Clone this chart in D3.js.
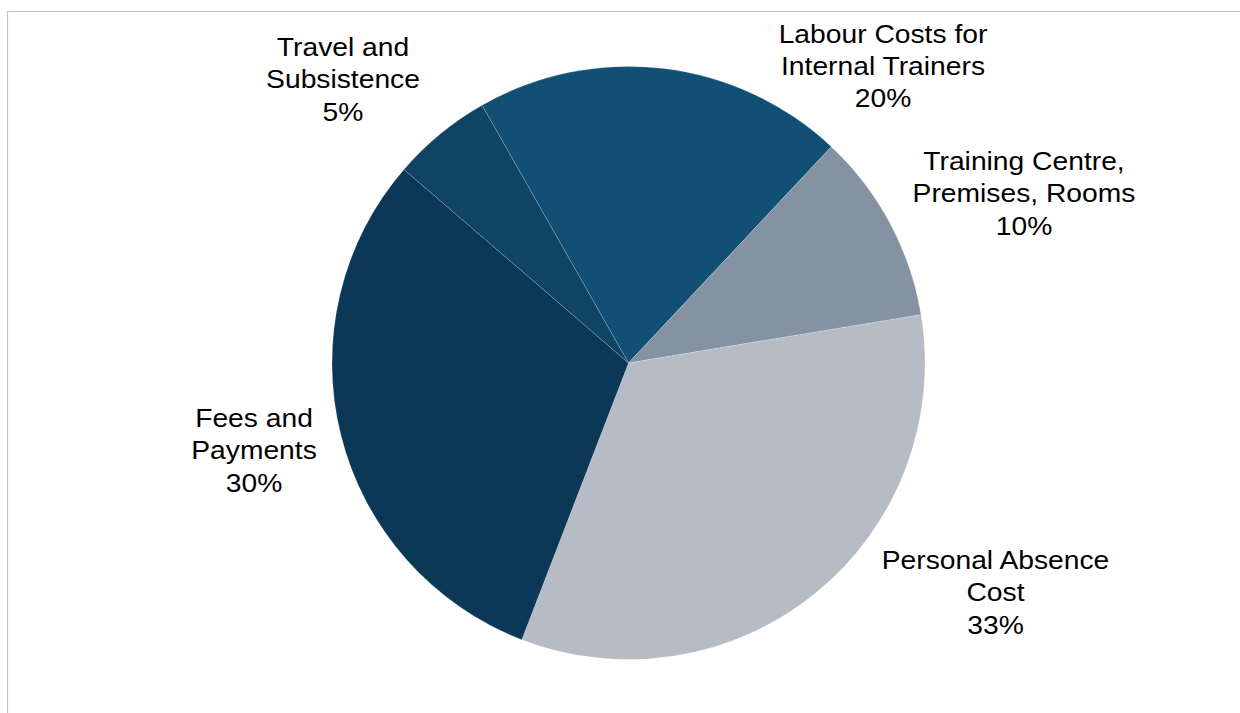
<!DOCTYPE html>
<html>
<head>
<meta charset="utf-8">
<script src="https://cdn.jsdelivr.net/npm/d3@7"></script>
<style>
  html, body { margin: 0; padding: 0; background: #ffffff; }
  svg { display: block; }
</style>
</head>
<body>
<svg id="chart" width="1240" height="713"></svg>
<script>
// ---- data ----
const categories = [
  "Labour Costs for Internal Trainers",
  "Training Centre, Premises, Rooms",
  "Personal Absence Cost",
  "Fees and Payments",
  "Travel and Subsistence"
];
const values = [20.2, 10.4, 33.45, 30.45, 5.45];
const labelLines = [
  ["Labour Costs for", "Internal Trainers"],
  ["Training Centre,", "Premises, Rooms"],
  ["Personal Absence", "Cost"],
  ["Fees and", "Payments"],
  ["Travel and", "Subsistence"]
];
const colors = ["#114f75", "#8592a2", "#b5bcc6", "#0b3857", "#0f4464"];

// ---- layout (styles / positions) ----
const W = 1240, H = 713;
const cx = 628.5, cy = 363, R = 296.5;
const startDeg = -29.6;
const labelPos = [
  {x: 883, y: 42.5},
  {x: 1024, y: 170},
  {x: 995.5, y: 569},
  {x: 254, y: 427},
  {x: 343, y: 56}
];
const lineH = 32.5;
const fontSize = 25;
const stretch = 1.13;

const svg = d3.select("#chart");

// frame border (top + left)
svg.append("path")
  .attr("d", `M7.5,${H} L7.5,11.5 L${W},11.5`)
  .attr("fill", "none")
  .attr("stroke", "#c3c3c3")
  .attr("stroke-width", 1.2);

const total = d3.sum(values);
const data = categories.map((c, i) => ({cat: c, value: values[i], i}));

const pie = d3.pie()
  .sort(null)
  .value(d => d.value)
  .startAngle(startDeg * Math.PI / 180)
  .endAngle(startDeg * Math.PI / 180 + 2 * Math.PI);

const arc = d3.arc().innerRadius(0).outerRadius(R);

const g = svg.append("g").attr("transform", `translate(${cx},${cy})`);

g.selectAll("path.slice")
  .data(pie(data))
  .join("path")
  .attr("class", "slice")
  .attr("d", arc)
  .attr("fill", d => colors[d.data.i])
  .attr("stroke", "#ffffff")
  .attr("stroke-opacity", 0.22)
  .attr("stroke-width", 0.8);

// labels
const lg = svg.append("g")
  .attr("font-family", "'Liberation Sans', Arial, sans-serif")
  .attr("font-size", fontSize)
  .attr("fill", "#000000");

data.forEach((d, i) => {
  const pct = Math.round(d.value / total * 100) + "%";
  const lines = labelLines[i].concat([pct]);
  const p = labelPos[i];
  const t = lg.append("g")
    .attr("transform", `translate(${p.x},${p.y}) scale(${stretch},1)`);
  lines.forEach((ln, k) => {
    t.append("text")
      .attr("x", 0)
      .attr("y", k * lineH)
      .attr("text-anchor", "middle")
      .text(ln);
  });
});
</script>
</body>
</html>
